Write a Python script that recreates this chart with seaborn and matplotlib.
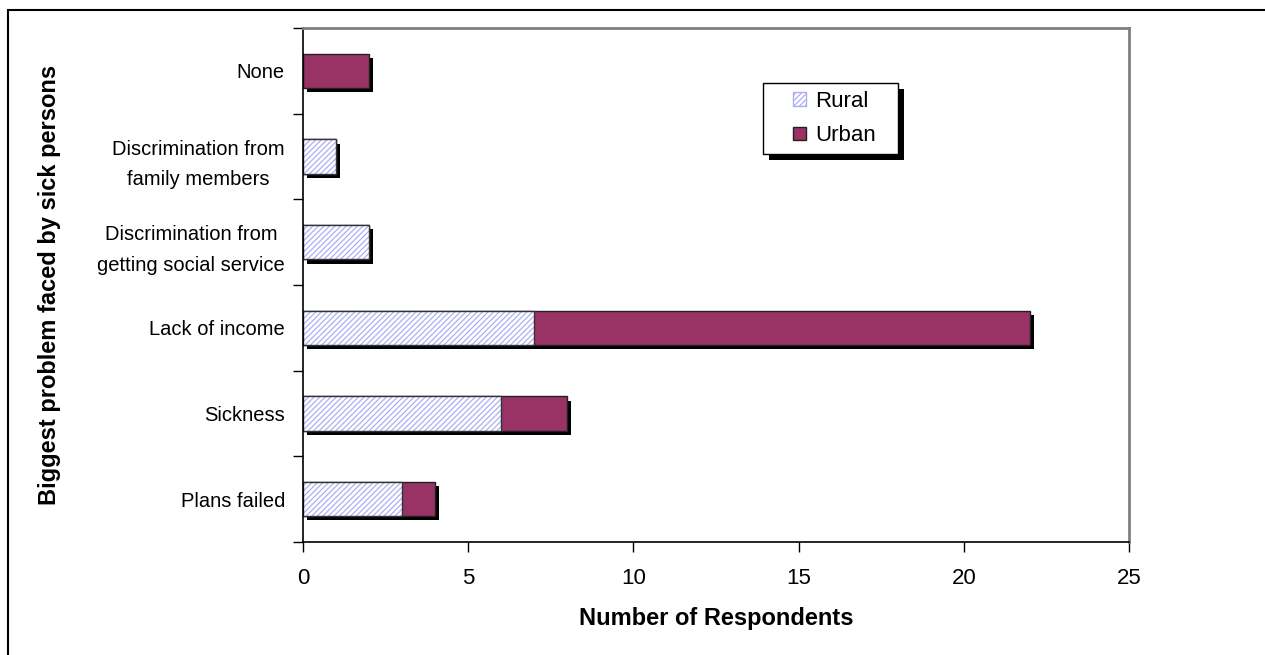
import numpy as np
import matplotlib
matplotlib.use("Agg")
import matplotlib.pyplot as plt
import matplotlib.patheffects as pe
from matplotlib.patches import Patch, Rectangle
from matplotlib.legend_handler import HandlerPatch
import seaborn as sns

# data
problems = [
    "None",
    "Discrimination from\nfamily members",
    "Discrimination from\ngetting social service",
    "Lack of income",
    "Sickness",
    "Plans failed",
]
rural = [0, 1, 2, 7, 6, 3]
urban = [2, 0, 0, 15, 2, 1]
total = [r + u for r, u in zip(rural, urban)]
x_ticks = [0, 5, 10, 15, 20, 25]

urban_color = "#993366"
hatch_color = "#AEAEF4"

sns.set_style("white")
plt.rcParams["font.family"] = ["Liberation Sans", "DejaVu Sans"]
plt.rcParams["hatch.linewidth"] = 0.9
plt.rcParams["text.color"] = "black"
plt.rcParams["axes.labelcolor"] = "black"
plt.rcParams["xtick.color"] = "black"
plt.rcParams["ytick.color"] = "black"

fig = plt.figure(figsize=(12.65, 6.55), dpi=100)
ax = fig.add_axes([0.2395, 0.1725, 0.653, 0.7845])

# outer frame of the figure (clipped right and bottom like the original)
fig.patches.append(Rectangle((8 / 1265, -0.2), 1.2, 1.2 - 10 / 655,
                             transform=fig.transFigure, fill=False,
                             edgecolor="black", linewidth=1.5))

shadow = [pe.SimplePatchShadow(offset=(3, -3), shadow_rgbFace="black", alpha=1.0),
          pe.Normal()]

# full bar in urban colour, rural part laid over it
sns.barplot(x=total, y=problems, orient="h", color=urban_color, saturation=1,
            width=0.4, edgecolor="#222222", linewidth=1, ax=ax)
for p in ax.patches:
    p.set_path_effects(shadow)

n = len(ax.patches)
sns.barplot(x=rural, y=problems, orient="h", color="white", saturation=1,
            width=0.4, linewidth=0, ax=ax)
for p in ax.patches[n:]:
    p.set_hatch("//////")
    p.set_edgecolor(hatch_color)
    p.set_linewidth(0)

sns.barplot(x=rural, y=problems, orient="h", color="#333333", fill=False,
            width=0.4, linewidth=1, ax=ax)

ax.set_xlim(0, 25)
ax.set_ylim(len(problems) - 0.5, -0.5)
ax.set_xticks(x_ticks)
ax.set_xticklabels([str(t) for t in x_ticks], fontsize=16)
ax.tick_params(axis="x", direction="out", length=7, width=1, color="black",
               bottom=True, pad=12)
ax.set_yticks(range(len(problems)))
ax.set_yticklabels(problems, fontsize=14.5, linespacing=1.75,
                   multialignment="center")
ax.tick_params(axis="y", which="major", length=0, pad=13)
ax.set_yticks(np.arange(-0.5, len(problems), 1), minor=True)
ax.tick_params(axis="y", which="minor", direction="out", length=7, width=1,
               color="black", left=True)

for side in ["top", "right"]:
    ax.spines[side].set_color("#808080")
    ax.spines[side].set_linewidth(2)
for side in ["left", "bottom"]:
    ax.spines[side].set_color("black")
    ax.spines[side].set_linewidth(1.2)

ax.set_xlabel("Number of Respondents", fontsize=17, fontweight="bold", labelpad=13)
ax.set_ylabel("Biggest problem faced by sick persons", fontsize=17,
              fontweight="bold", labelpad=26)


def small_square(legend, orig_handle, xdescent, ydescent, width, height, fontsize):
    # square sitting at the right end of the handle box
    return Rectangle((width - height - xdescent, -ydescent), height, height)


handles = [Patch(facecolor="white", edgecolor=hatch_color, hatch="//////"),
           Patch(facecolor=urban_color, edgecolor="#222222")]
leg = ax.legend(handles, ["Rural", "Urban"], loc="upper left",
                bbox_to_anchor=(0.557, 0.3, 0.1634, 0.593), mode="expand",
                borderaxespad=0, fontsize=16,
                frameon=True, framealpha=1, fancybox=False,
                handler_map={Patch: HandlerPatch(patch_func=small_square)},
                handlelength=1.6, handleheight=0.55, handletextpad=0.4,
                borderpad=0.35, labelspacing=0.6)
leg.get_frame().set_edgecolor("black")
leg.get_frame().set_facecolor("white")
leg.get_frame().set_linewidth(1)
leg.get_frame().set_path_effects(
    [pe.SimplePatchShadow(offset=(4, -4), shadow_rgbFace="black", alpha=1.0),
     pe.Normal()])

fig.savefig("out.png", dpi=100)
